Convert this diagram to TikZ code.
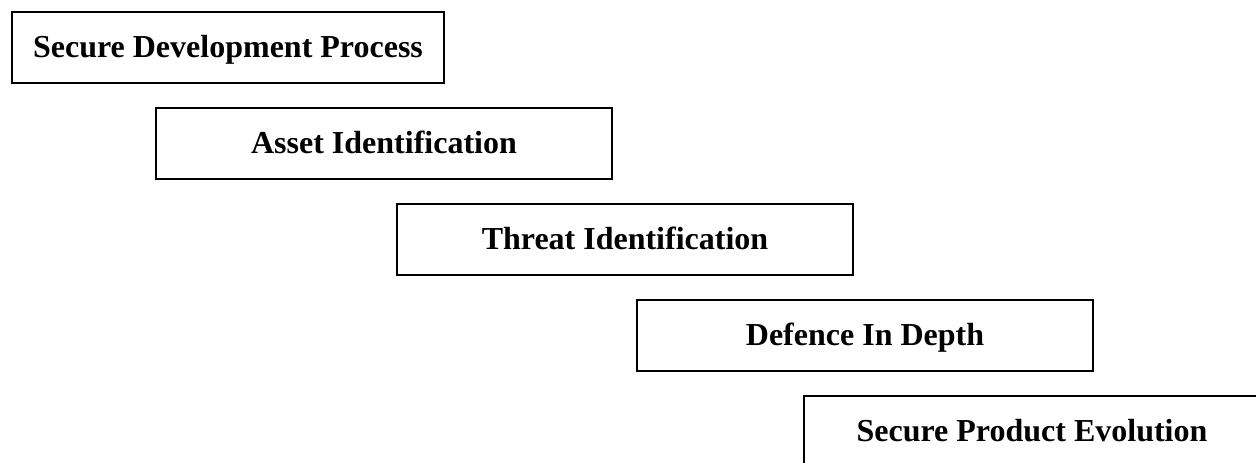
\documentclass[tikz,border=0pt]{standalone}
\usepackage{fontspec}
\setmainfont{Liberation Serif}
\usetikzlibrary{positioning}

\begin{document}
\begin{tikzpicture}[
    stagebox/.style={draw, line width=0.8pt, rectangle, minimum width=228pt,
      minimum height=35.5pt, inner sep=0pt, outer sep=0pt, text height=11pt,
      text depth=1.5pt, font=\fontsize{16}{19}\selectfont\bfseries}
  ]
      % Page frame
      \useasboundingbox (0,0) rectangle (628pt,-231pt);
      \clip (0,0) rectangle (628pt,-231pt);
      % Define nodes
      \node[stagebox, minimum width=216pt, anchor=north west] (dev) at (6pt,-6pt) {Secure Development Process};
      \node[stagebox, below=12.5pt of dev.south west, anchor=north west, xshift=72pt] (asset) {Asset Identification};
      \node[stagebox, below=12.5pt of asset.south west, anchor=north west, xshift=120.5pt] (threat) {Threat Identification};
      \node[stagebox, below=12.5pt of threat.south west, anchor=north west, xshift=120pt] (depth) {Defence In Depth};
      \node[stagebox, below=12.5pt of depth.south west, anchor=north west, xshift=83.5pt] (evol) {Secure Product Evolution};
    \end{tikzpicture}
\end{document}
